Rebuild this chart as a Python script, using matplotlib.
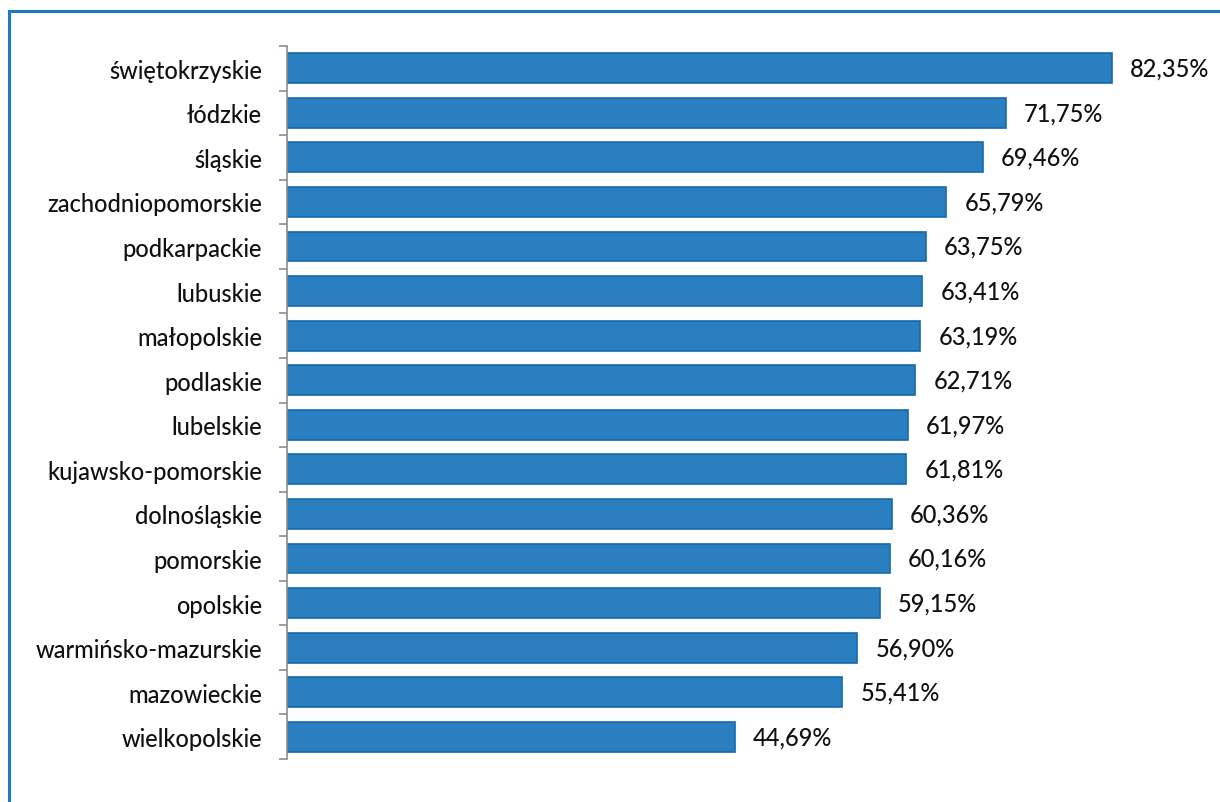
import matplotlib.pyplot as plt
from matplotlib.lines import Line2D
import numpy as np

regions = ['świętokrzyskie', 'łódzkie', 'śląskie', 'zachodniopomorskie', 'podkarpackie',
           'lubuskie', 'małopolskie', 'podlaskie', 'lubelskie', 'kujawsko-pomorskie',
           'dolnośląskie', 'pomorskie', 'opolskie', 'warmińsko-mazurskie', 'mazowieckie',
           'wielkopolskie']
values = [82.35, 71.75, 69.46, 65.79, 63.75, 63.41, 63.19, 62.71, 61.97, 61.81,
          60.36, 60.16, 59.15, 56.90, 55.41, 44.69]

plt.rcParams['font.family'] = ['Lato', 'DejaVu Sans']

fig = plt.figure(figsize=(12.2, 8.03), dpi=100)
ax = fig.add_axes([287 / 1220, 43 / 803, 932 / 1220, 713 / 803])

y = np.arange(len(regions))
ax.barh(y, values, height=0.67, color='#2a7fc1', edgecolor='#1769ad', linewidth=1.2)
for yi, v in zip(y, values):
    ax.annotate(f'{v:.2f}%'.replace('.', ','), (v, yi), xytext=(13, 0),
                textcoords='offset points', va='center', ha='left',
                fontsize=17, color='#111111', fontweight='medium')

ax.set_ylim(len(regions) - 0.5, -0.5)
ax.set_xlim(0, 93)
ax.set_yticks(y)
ax.set_yticklabels(regions, fontsize=17, color='#111111', fontweight='medium')
ax.set_yticks(np.arange(-0.5, len(regions)), minor=True)
ax.tick_params(axis='y', which='major', length=0, pad=18)
ax.tick_params(axis='y', which='minor', length=6, color='#8c8c8c', width=1.2)
ax.set_xticks([])
for s in ['top', 'right', 'bottom']:
    ax.spines[s].set_visible(False)
ax.spines['left'].set_color('#8c8c8c')
ax.spines['left'].set_linewidth(1.2)

# blue frame
fig.add_artist(Line2D([9 / 1220, 1.0], [1 - 12 / 803, 1 - 12 / 803], transform=fig.transFigure,
                      color='#1f7ac4', linewidth=2.2))
fig.add_artist(Line2D([9 / 1220, 9 / 1220], [0.0, 1 - 12 / 803], transform=fig.transFigure,
                      color='#1f7ac4', linewidth=2.2))

fig.savefig('out.png', dpi=100)
